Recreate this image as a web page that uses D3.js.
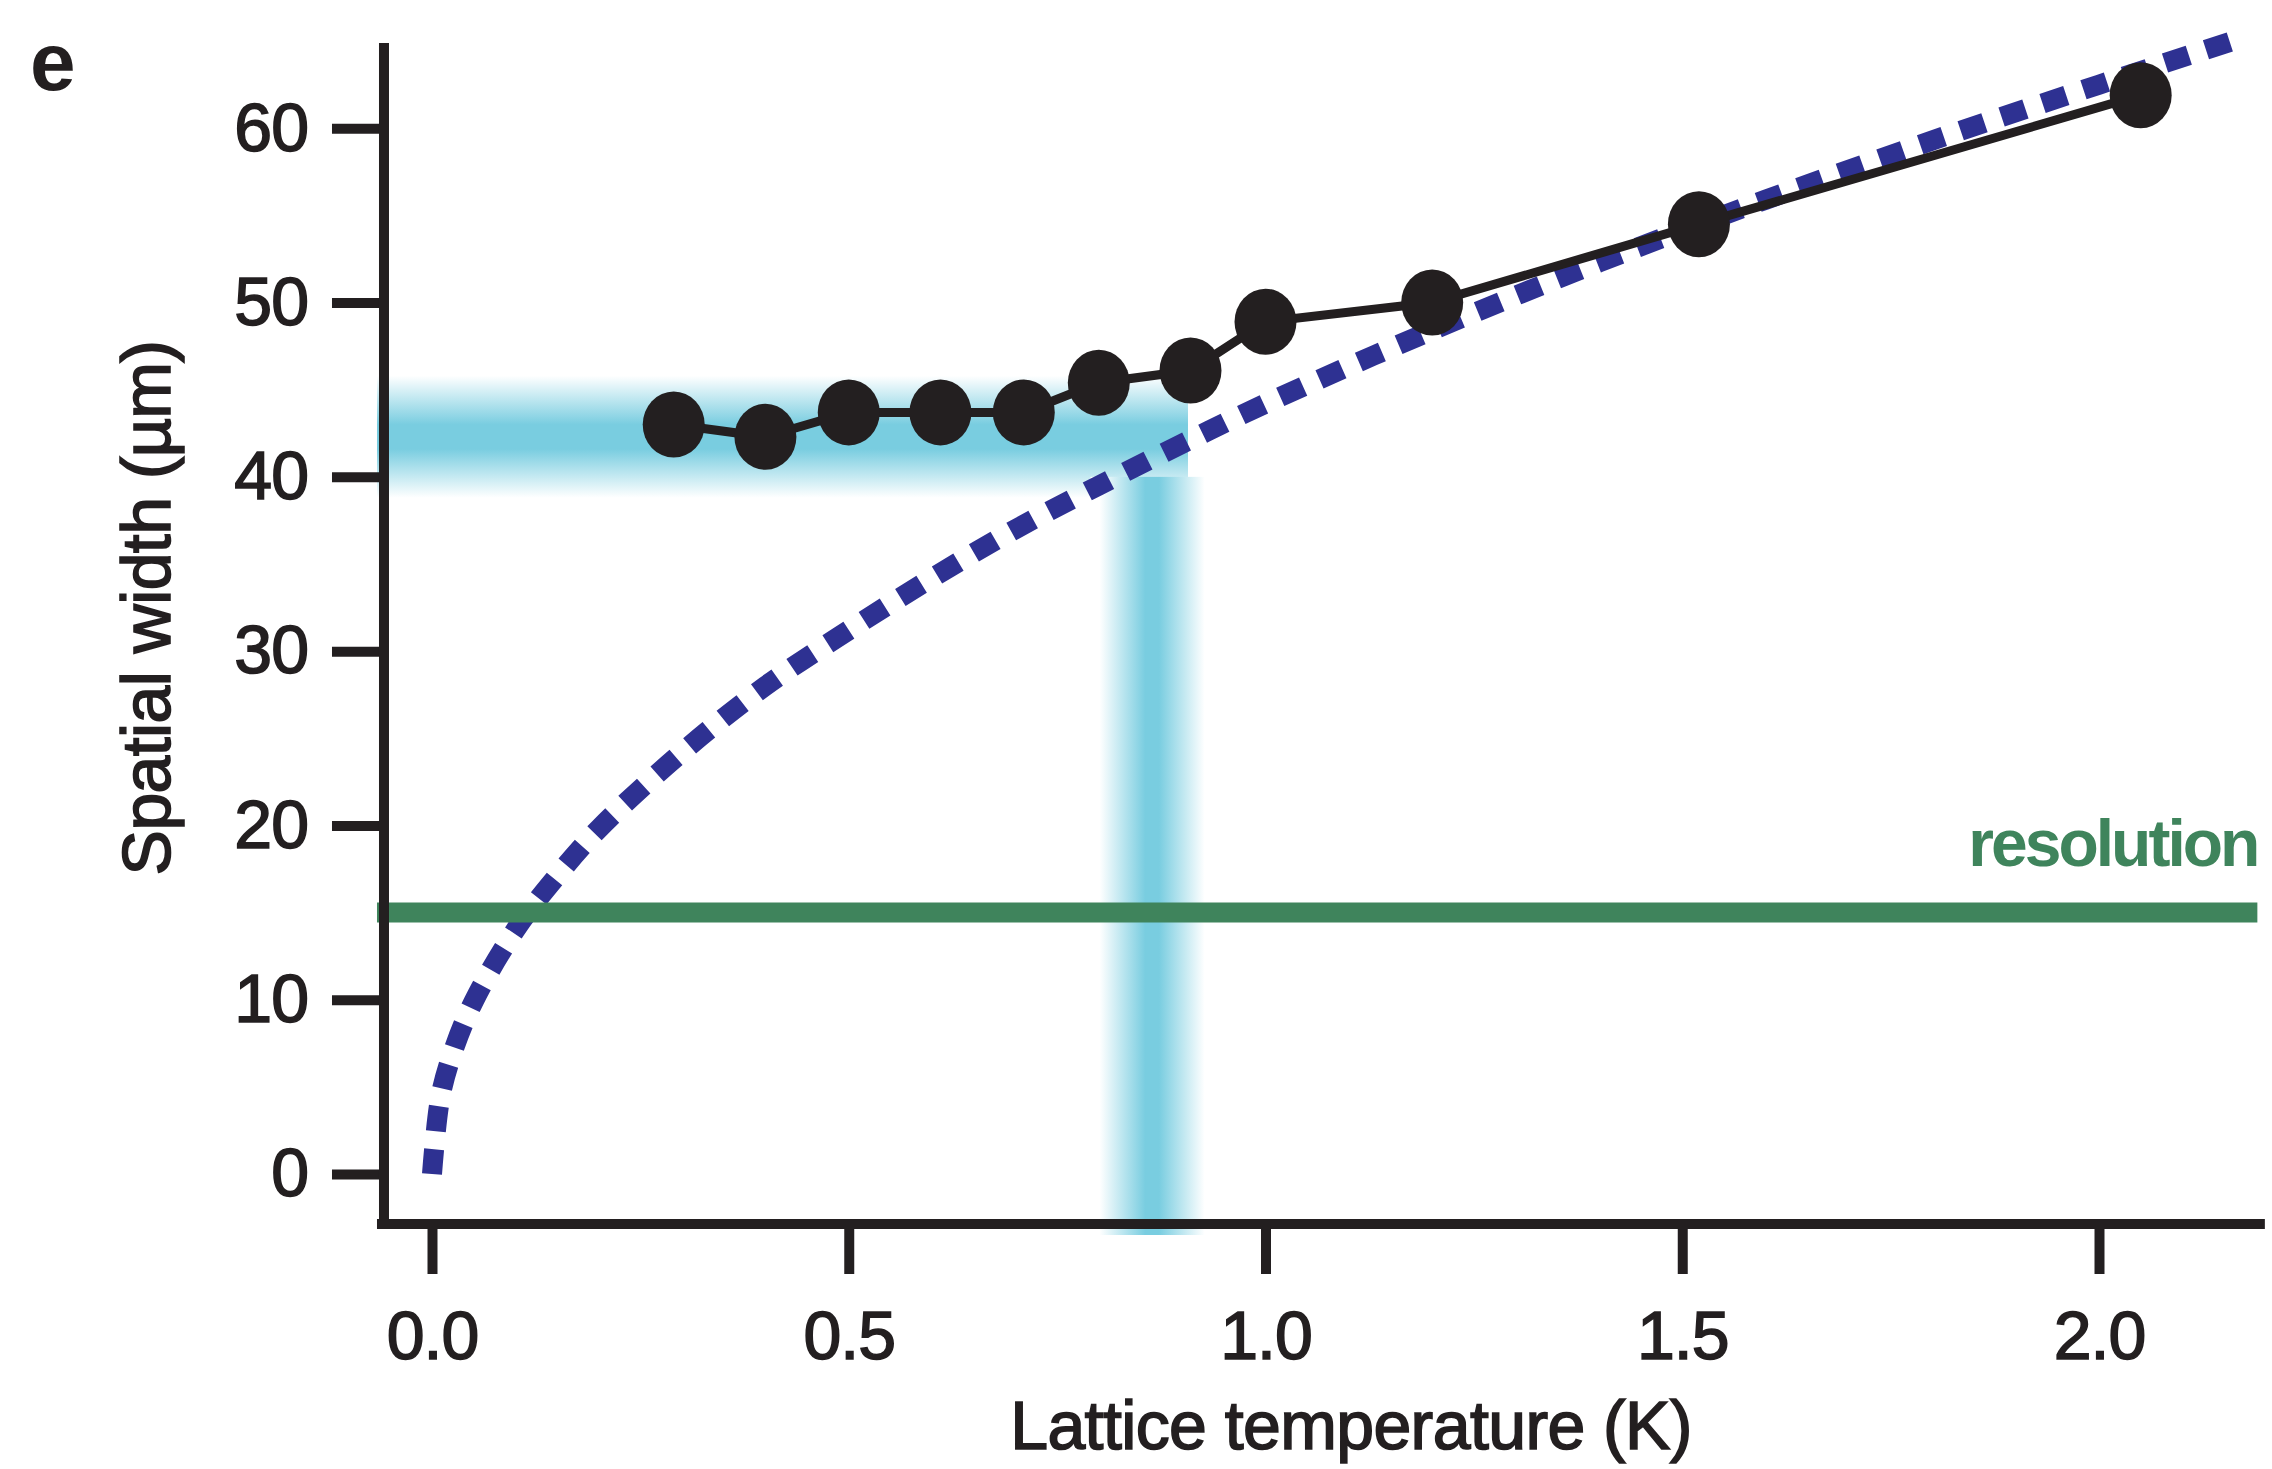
<!DOCTYPE html>
<html>
<head>
<meta charset="utf-8">
<script src="https://cdn.jsdelivr.net/npm/d3@7"></script>
<style>
  body { margin: 0; background: #fff; }
  text { font-family: "Liberation Sans", Arial, Helvetica, sans-serif; }
</style>
</head>
<body>
<div id="container"></div>
<script>
/* DATA */
const tempK = [0.29, 0.40, 0.50, 0.61, 0.71, 0.80, 0.91, 1.00, 1.20, 1.52, 2.05]
const widthUm = [43.0, 42.3, 43.7, 43.7, 43.7, 45.4, 46.1, 48.9, 50.0, 54.5, 61.9]

// dashed fit curve
const fitTempK = [0, 0.01, 0.025, 0.05, 0.1, 0.15, 0.2, 0.3, 0.4, 0.5, 0.6, 0.7, 0.8, 0.9, 1.0, 1.2, 1.4, 1.6, 1.8, 2.0, 2.16]
const fitWidthUm = [0, 4.4, 7.0, 9.9, 14.0, 17.1, 19.8, 24.2, 28.0, 31.2, 34.2, 37.0, 39.5, 41.9, 44.2, 48.4, 52.3, 55.9, 59.3, 62.5, 65.0]

const resolutionUm = 15
const resolutionEndK = 2.19

// cyan guide bands
const hBandWidth = [38.8, 45.8]
const hBandTempEnd = 0.907
const vBandTemp = [0.79, 0.927]
const vBandWidth = [-3.5, 40]

const xTicks = [0, 0.5, 1.0, 1.5, 2.0]
const yTicks = [0, 10, 20, 30, 40, 50, 60]
const xDomain = [-0.066, 2.199]
const yDomain = [-2.87, 64.9]

/* CONSTANTS */
const width = 2272, height = 1469
const ink = "#231f20"
const cyan = "#79cde0"

const xScale = d3.scaleLinear().domain([0, 2]).range([432, 2099])
const yScale = d3.scaleLinear().domain([0, 60]).range([1174, 128.3])

const svg = d3.select("#container")
  .append("svg")
  .attr("width", width)
  .attr("height", height)

const defs = svg.append("defs")

const hGrad = defs.append("linearGradient")
  .attr("id", "hband")
  .attr("x1", 0).attr("y1", 0).attr("x2", 0).attr("y2", 1)
hGrad.append("stop").attr("offset", "0%").attr("stop-color", "#fff")
hGrad.append("stop").attr("offset", "40%").attr("stop-color", cyan)
hGrad.append("stop").attr("offset", "60%").attr("stop-color", cyan)
hGrad.append("stop").attr("offset", "100%").attr("stop-color", "#fff")

const vGrad = defs.append("linearGradient")
  .attr("id", "vband")
  .attr("x1", 0).attr("y1", 0).attr("x2", 1).attr("y2", 0)
vGrad.append("stop").attr("offset", "0%").attr("stop-color", "#fff")
vGrad.append("stop").attr("offset", "8%").attr("stop-color", "#fff")
vGrad.append("stop").attr("offset", "48%").attr("stop-color", cyan)
vGrad.append("stop").attr("offset", "60%").attr("stop-color", cyan)
vGrad.append("stop").attr("offset", "100%").attr("stop-color", "#fff")

// bands
svg.append("rect")
  .attr("x", xScale(xDomain[0]))
  .attr("y", yScale(hBandWidth[1]))
  .attr("width", xScale(hBandTempEnd) - xScale(xDomain[0]))
  .attr("height", yScale(hBandWidth[0]) - yScale(hBandWidth[1]))
  .attr("fill", "url(#hband)")

svg.append("rect")
  .attr("x", xScale(vBandTemp[0]))
  .attr("y", yScale(vBandWidth[1]))
  .attr("width", xScale(vBandTemp[1]) - xScale(vBandTemp[0]))
  .attr("height", yScale(vBandWidth[0]) - yScale(vBandWidth[1]))
  .attr("fill", "url(#vband)")

// dashed fit
const fitData = fitTempK.map((t, i) => ({ t: t, w: fitWidthUm[i] }))
const fitLine = d3.line()
  .x(d => xScale(d.t))
  .y(d => yScale(d.w))
  .curve(d3.curveCatmullRom.alpha(0.5))

svg.append("path")
  .attr("d", fitLine(fitData))
  .attr("fill", "none")
  .attr("stroke", "#2e3192")
  .attr("stroke-width", 20)
  .attr("stroke-dasharray", "25,18")

// resolution line
svg.append("line")
  .attr("x1", xScale(xDomain[0]))
  .attr("x2", xScale(resolutionEndK))
  .attr("y1", yScale(resolutionUm))
  .attr("y2", yScale(resolutionUm))
  .attr("stroke", "#3f845c")
  .attr("stroke-width", 20)

svg.append("text")
  .attr("x", xScale(resolutionEndK))
  .attr("y", yScale(resolutionUm) - 47)
  .attr("text-anchor", "end")
  .attr("font-size", 66)
  .attr("font-weight", "bold")
  .attr("letter-spacing", -3)
  .attr("fill", "#3f845c")
  .text("resolution")

// measured widths
const data = tempK.map((t, i) => ({ t: t, w: widthUm[i] }))
const dataLine = d3.line().x(d => xScale(d.t)).y(d => yScale(d.w))

svg.append("path")
  .attr("d", dataLine(data))
  .attr("fill", "none")
  .attr("stroke", ink)
  .attr("stroke-width", 9)

svg.selectAll(".dot")
  .data(data)
  .join("ellipse")
  .attr("class", "dot")
  .attr("cx", d => xScale(d.t))
  .attr("cy", d => yScale(d.w))
  .attr("rx", 31)
  .attr("ry", 33)
  .attr("fill", ink)

// axes
const yAxis = d3.axisLeft(yScale)
  .tickValues(yTicks)
  .tickSize(52)
  .tickPadding(24)
  .tickFormat(d3.format("d"))

const yAxisGroup = svg.append("g")
  .attr("transform", `translate(${xScale(xDomain[0]) + 7}, 0)`)
  .call(yAxis)

const xAxis = d3.axisBottom(xScale)
  .tickValues(xTicks)
  .tickSize(50)
  .tickPadding(37)
  .tickFormat(d3.format(".1f"))

const xAxisGroup = svg.append("g")
  .attr("transform", `translate(0, ${yScale(yDomain[0])})`)
  .call(xAxis)

svg.selectAll(".domain").remove()
svg.selectAll(".tick line").attr("stroke", ink).attr("stroke-width", 10)
svg.selectAll(".tick text")
  .attr("font-size", 68)
  .attr("fill", ink)
  .attr("stroke", ink)
  .attr("stroke-width", 1.6)
  .attr("letter-spacing", -1)
  .style("font-family", "'Liberation Sans', Arial, sans-serif")

// axis lines
svg.append("line")
  .attr("x1", xScale(xDomain[0]) + 7)
  .attr("x2", xScale(xDomain[0]) + 7)
  .attr("y1", yScale(yDomain[1]))
  .attr("y2", yScale(yDomain[0]) + 5)
  .attr("stroke", ink)
  .attr("stroke-width", 10)

svg.append("line")
  .attr("x1", xScale(xDomain[0]))
  .attr("x2", xScale(xDomain[1]))
  .attr("y1", yScale(yDomain[0]))
  .attr("y2", yScale(yDomain[0]))
  .attr("stroke", ink)
  .attr("stroke-width", 10)

// titles
svg.append("text")
  .attr("x", 1351)
  .attr("y", 1449)
  .attr("text-anchor", "middle")
  .attr("font-size", 68)
  .attr("letter-spacing", -0.6)
  .attr("fill", ink)
  .attr("stroke", ink)
  .attr("stroke-width", 1.6)
  .text("Lattice temperature (K)")

svg.append("text")
  .attr("transform", "translate(170, 608) rotate(-90)")
  .attr("text-anchor", "middle")
  .attr("font-size", 68)
  .attr("letter-spacing", -0.6)
  .attr("fill", ink)
  .attr("stroke", ink)
  .attr("stroke-width", 1.6)
  .text("Spatial width (µm)")

svg.append("text")
  .attr("x", 30)
  .attr("y", 90)
  .attr("font-size", 82)
  .attr("font-weight", "bold")
  .attr("fill", ink)
  .text("e")
</script>
</body>
</html>
